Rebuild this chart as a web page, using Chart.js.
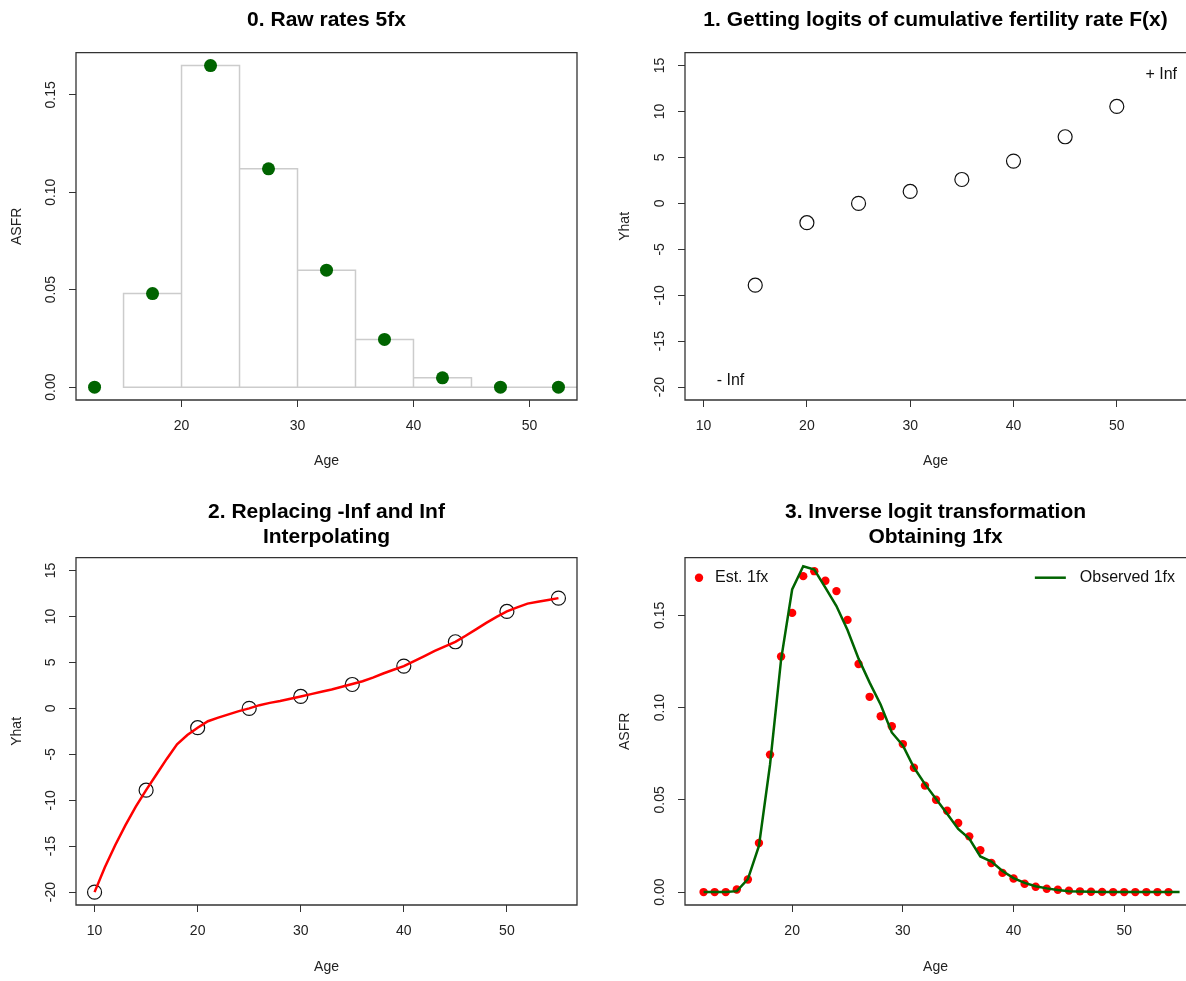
<!DOCTYPE html>
<html>
<head>
<meta charset="utf-8">
<title>From 5fx to 1fx</title>
<script src="https://cdn.jsdelivr.net/npm/chart.js@4.4.1/dist/chart.umd.min.js"></script>
<style>
  html, body { margin: 0; padding: 0; background: #fff; }
  #page { position: relative; width: 1186px; height: 981px; overflow: hidden; }
  .panel { position: absolute; overflow: hidden; }
  canvas { display: block; }
</style>
</head>
<body>
<div id="page">
  <div class="panel" style="left:0;top:0;width:593px;height:490px"><canvas id="p0" width="593" height="490" style="width:593px;height:490px"></canvas></div>
  <div class="panel" style="left:593px;top:0;width:593px;height:490px"><canvas id="p1" width="593" height="490" style="width:593px;height:490px"></canvas></div>
  <div class="panel" style="left:0;top:490px;width:593px;height:491px"><canvas id="p2" width="593" height="491" style="width:593px;height:491px"></canvas></div>
  <div class="panel" style="left:593px;top:490px;width:593px;height:491px"><canvas id="p3" width="593" height="491" style="width:593px;height:491px"></canvas></div>
</div>
<script>
// Data

// 0. raw five-year rates (points at group midpoints, histogram bars 15-55)
const ages5 = [12.5, 17.5, 22.5, 27.5, 32.5, 37.5, 42.5, 47.5, 52.5];
const rates5 = [0, 0.048, 0.165, 0.112, 0.060, 0.0245, 0.0048, 0, 0];
const histBreaks = [15, 20, 25, 30, 35, 40, 45, 50, 55];
const histHeights = [0.048, 0.165, 0.112, 0.060, 0.0245, 0.0048, 0, 0];

// 1. logits of cumulative fertility (10 and 55 are -Inf / +Inf, not drawn)
const logitAges = [15, 20, 25, 30, 35, 40, 45, 50];
const logitVals = [-8.9, -2.1, 0.0, 1.3, 2.6, 4.6, 7.25, 10.55];

// 2. infinities replaced, then interpolated by single year
const knotAges = [10, 15, 20, 25, 30, 35, 40, 45, 50, 55];
const knotVals = [-20, -8.9, -2.1, 0.0, 1.3, 2.6, 4.6, 7.25, 10.55, 12.0];
const splineAges = [10, 11, 12, 13, 14, 15, 16, 17, 18, 19, 20, 21, 22, 23, 24, 25,
  26, 27, 28, 29, 30, 31, 32, 33, 34, 35, 36, 37, 38, 39, 40, 41, 42, 43, 44, 45,
  46, 47, 48, 49, 50, 51, 52, 53, 54, 55];
const splineVals = [-20, -17.3, -14.9, -12.7, -10.7, -8.9, -7.2, -5.5, -3.9, -2.9,
  -2.1, -1.4, -1.0, -0.65, -0.3, 0.0, 0.35, 0.6, 0.8, 1.05,
  1.3, 1.55, 1.8, 2.05, 2.35, 2.65, 2.95, 3.35, 3.8, 4.2,
  4.6, 5.15, 5.7, 6.25, 6.75, 7.25, 7.9, 8.6, 9.3, 9.95,
  10.55, 11.0, 11.4, 11.6, 11.8, 12.0];

// 3. single-year rates
const ages1 = [12, 13, 14, 15, 16, 17, 18, 19, 20, 21, 22, 23, 24, 25, 26, 27, 28,
  29, 30, 31, 32, 33, 34, 35, 36, 37, 38, 39, 40, 41, 42, 43, 44, 45, 46, 47, 48,
  49, 50, 51, 52, 53, 54];
const estRates = [0, 0, 0, 0.0014, 0.0068, 0.0266, 0.0745, 0.1277, 0.1513, 0.1712,
  0.1739, 0.1687, 0.1631, 0.1475, 0.1236, 0.1058, 0.0953, 0.0899, 0.0802, 0.0674,
  0.0577, 0.0500, 0.0441, 0.0374, 0.0302, 0.0227, 0.0158, 0.0104, 0.0074, 0.0045,
  0.0029, 0.0018, 0.0013, 0.0008, 0.0004, 0.0002, 0.0001, 0, 0, 0, 0, 0, 0];
const obsAges = [12, 13, 14, 15, 16, 17, 18, 19, 20, 21, 22, 23, 24, 25, 26, 27, 28,
  29, 30, 31, 32, 33, 34, 35, 36, 37, 38, 39, 40, 41, 42, 43, 44, 45, 46, 47, 48,
  49, 50, 51, 52, 53, 54, 55];
const obsRates = [0, 0, 0, 0.0005, 0.0070, 0.0250, 0.0690, 0.1260, 0.1640, 0.1766,
  0.1748, 0.1650, 0.1550, 0.1420, 0.1265, 0.1135, 0.1015, 0.0865, 0.0795, 0.0675,
  0.0585, 0.0505, 0.0425, 0.0342, 0.0290, 0.0193, 0.0165, 0.0114, 0.0076, 0.0050,
  0.0032, 0.0020, 0.0011, 0.0005, 0.0003, 0.0002, 0.0001, 0, 0, 0, 0, 0, 0, 0];

// tick labels
const ageTicks = [10, 20, 30, 40, 50];
const ageTicksFrom20 = [20, 30, 40, 50];
const rateTicks = [0, 0.05, 0.10, 0.15];
const logitTicks = [-20, -15, -10, -5, 0, 5, 10, 15];

const FONT = '"Liberation Sans", Arial, sans-serif';
const GREEN = '#006400';
const RED = '#ff0000';

const pts = (xs, ys) => xs.map((x, i) => ({ x: x, y: ys[i] }));

// outline of the histogram bars, baseline first
function histOutline() {
  const out = [{ x: histBreaks[histBreaks.length - 1], y: 0 }, { x: histBreaks[0], y: 0 }];
  histHeights.forEach((h, i) => {
    const lo = histBreaks[i], hi = histBreaks[i + 1];
    out.push({ x: lo, y: 0 }, { x: lo, y: h }, { x: hi, y: h }, { x: hi, y: 0 });
  });
  return out;
}

// box, rotated y tick labels, text notes and legend, drawn the way R does it
const rFrame = {
  id: 'rFrame',
  afterDraw(chart, args, opts) {
    const { ctx, chartArea: a } = chart;
    const xs = chart.scales.x, ys = chart.scales.y;
    ctx.save();
    ctx.strokeStyle = '#333';
    ctx.lineWidth = 1.3;
    ctx.beginPath();
    if (opts.openRight) {
      // the right edge of these plots is cut off by the image border
      ctx.moveTo(a.right + 2, a.top);
      ctx.lineTo(a.left, a.top);
      ctx.lineTo(a.left, a.bottom);
      ctx.lineTo(a.right + 2, a.bottom);
    } else {
      ctx.rect(a.left, a.top, a.right - a.left, a.bottom - a.top);
    }
    ctx.stroke();

    ctx.fillStyle = '#222';
    ctx.font = '14px ' + FONT;
    ctx.textAlign = 'center';
    ctx.textBaseline = 'middle';
    ys.ticks.forEach(t => {
      ctx.save();
      ctx.translate(a.left - 25, ys.getPixelForValue(t.value));
      ctx.rotate(-Math.PI / 2);
      ctx.fillText(t.value.toFixed(opts.yDigits), 0, 0);
      ctx.restore();
    });

    ctx.font = '16px ' + FONT;
    ctx.fillStyle = '#111';
    (opts.notes || []).forEach(n => {
      ctx.fillText(n.text, xs.getPixelForValue(n.x), ys.getPixelForValue(n.y));
    });

    if (opts.legend) {
      const ly = a.top + 20;
      const dots = chart.data.datasets.find(d => !d.showLine);
      const line = chart.data.datasets.find(d => d.showLine);
      ctx.fillStyle = dots.backgroundColor;
      ctx.beginPath();
      ctx.arc(a.left + 14, ly, 4.2, 0, 2 * Math.PI);
      ctx.fill();
      ctx.fillStyle = '#111';
      ctx.textAlign = 'left';
      ctx.fillText(dots.label, a.left + 30, ly);
      const tw = ctx.measureText(line.label).width;
      const tx = a.right - 11 - tw;
      ctx.fillText(line.label, tx, ly);
      ctx.strokeStyle = line.borderColor;
      ctx.lineWidth = 2.5;
      ctx.beginPath();
      ctx.moveTo(tx - 45, ly);
      ctx.lineTo(tx - 14, ly);
      ctx.stroke();
    }
    ctx.restore();
  }
};

function makeChart(id, cfg) {
  const tickGrid = { drawOnChartArea: false, drawTicks: true, tickLength: 7, tickColor: '#333', lineWidth: 1 };
  return new Chart(document.getElementById(id), {
    type: 'scatter',
    data: { datasets: cfg.datasets },
    options: {
      responsive: false,
      animation: false,
      events: [],
      layout: { autoPadding: false, padding: { left: 0, top: 0, bottom: 0, right: cfg.padRight } },
      plugins: {
        legend: { display: false },
        tooltip: { enabled: false },
        title: {
          display: true,
          text: cfg.title,
          fullSize: false,
          color: '#000',
          font: { family: FONT, size: 21, weight: 'bold', lineHeight: '25px' },
          padding: { top: cfg.titleTop, bottom: cfg.titleBottom }
        },
        rFrame: { yDigits: cfg.yDigits, notes: cfg.notes, legend: cfg.legend, openRight: cfg.openRight }
      },
      scales: {
        x: {
          type: 'linear',
          min: cfg.xMin,
          max: cfg.xMax,
          afterBuildTicks: s => { s.ticks = cfg.xTicks.map(v => ({ value: v })); },
          afterFit: s => { s.height = cfg.xAxisH; },
          grid: tickGrid,
          border: { display: false },
          ticks: { color: '#222', font: { family: FONT, size: 14 }, padding: 11, maxRotation: 0, autoSkip: false },
          title: {
            display: true, text: 'Age', color: '#222',
            font: { family: FONT, size: 14 },
            padding: { top: 0, bottom: cfg.xTitlePad }
          }
        },
        y: {
          type: 'linear',
          min: cfg.yMin,
          max: cfg.yMax,
          afterBuildTicks: s => { s.ticks = cfg.yTicks.map(v => ({ value: v })); },
          afterFit: s => { s.width = cfg.yAxisW; },
          grid: tickGrid,
          border: { display: false },
          ticks: { display: false },
          title: {
            display: true, text: cfg.yTitle, color: '#222',
            font: { family: FONT, size: 14 },
            padding: { top: cfg.yTitlePad, bottom: 0 }
          }
        }
      }
    },
    plugins: [rFrame]
  });
}

document.addEventListener('DOMContentLoaded', function () {
  makeChart('p0', {
    title: '0. Raw rates 5fx', titleTop: 7.5, titleBottom: 20.2, padRight: 16,
    xMin: 10.9, xMax: 54.1, xTicks: ageTicksFrom20, xAxisH: 90, xTitlePad: 20.6,
    yMin: -0.0066, yMax: 0.1716, yTicks: rateTicks, yAxisW: 76, yTitle: 'ASFR', yTitlePad: 8.6, yDigits: 2,
    datasets: [
      { label: '5fx', data: pts(ages5, rates5), pointStyle: 'circle', pointRadius: 6.5,
        backgroundColor: GREEN, borderWidth: 0, order: 0 },
      { label: 'histogram', data: histOutline(), showLine: true, borderColor: '#cccccc',
        borderWidth: 1.5, pointRadius: 0, tension: 0, order: 1 }
    ]
  });

  makeChart('p1', {
    title: '1. Getting logits of cumulative fertility rate F(x)', titleTop: 7.5, titleBottom: 20.2, padRight: 0,
    openRight: true,
    xMin: 8.2, xMax: 56.7, xTicks: ageTicks, xAxisH: 90, xTitlePad: 20.6,
    yMin: -21.4, yMax: 16.4, yTicks: logitTicks, yAxisW: 92, yTitle: 'Yhat', yTitlePad: 23.6, yDigits: 0,
    notes: [{ x: 54.3, y: 14.0, text: '+ Inf' }, { x: 12.6, y: -19.3, text: '- Inf' }],
    datasets: [
      { label: 'Yhat', data: pts(logitAges, logitVals), pointStyle: 'circle', pointRadius: 7,
        backgroundColor: 'rgba(0,0,0,0)', borderColor: '#111', borderWidth: 1.2 }
    ]
  });

  makeChart('p2', {
    title: ['2. Replacing -Inf and Inf', 'Interpolating'], titleTop: 9.5, titleBottom: 8.2, padRight: 16,
    xMin: 8.2, xMax: 56.8, xTicks: ageTicks, xAxisH: 76, xTitlePad: 5.9,
    yMin: -21.4, yMax: 16.4, yTicks: logitTicks, yAxisW: 76, yTitle: 'Yhat', yTitlePad: 8.6, yDigits: 0,
    datasets: [
      { label: 'interpolated', data: pts(splineAges, splineVals), showLine: true, borderColor: RED,
        borderWidth: 2.5, pointRadius: 0, tension: 0, order: 0 },
      { label: 'Yhat', data: pts(knotAges, knotVals), pointStyle: 'circle', pointRadius: 7,
        backgroundColor: 'rgba(0,0,0,0)', borderColor: '#111', borderWidth: 1.2, order: 1 }
    ]
  });

  makeChart('p3', {
    title: ['3. Inverse logit transformation', 'Obtaining 1fx'], titleTop: 9.5, titleBottom: 8.2, padRight: 0,
    openRight: true,
    xMin: 10.32, xMax: 55.58, xTicks: ageTicksFrom20, xAxisH: 76, xTitlePad: 5.9,
    yMin: -0.007, yMax: 0.1812, yTicks: rateTicks, yAxisW: 92, yTitle: 'ASFR', yTitlePad: 23.6, yDigits: 2,
    legend: true,
    datasets: [
      { label: 'Observed 1fx', data: pts(obsAges, obsRates), showLine: true, borderColor: GREEN,
        borderWidth: 2.5, pointRadius: 0, tension: 0, order: 0 },
      { label: 'Est. 1fx', data: pts(ages1, estRates), pointStyle: 'circle', pointRadius: 4.2,
        backgroundColor: RED, borderWidth: 0, order: 1 }
    ]
  });
});
</script>
</body>
</html>
